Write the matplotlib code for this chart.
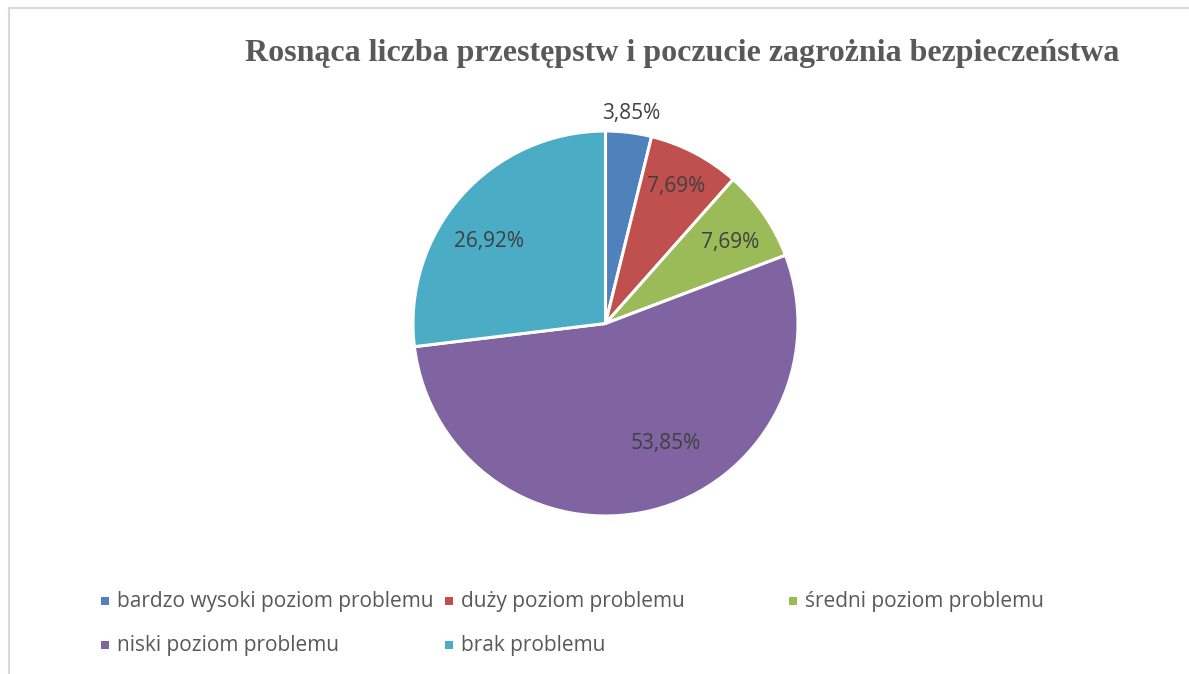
import matplotlib
matplotlib.use("Agg")
import matplotlib.pyplot as plt
from matplotlib.patches import Rectangle
import numpy as np

categories = ["bardzo wysoki poziom problemu", "duży poziom problemu",
              "średni poziom problemu", "niski poziom problemu", "brak problemu"]
values = [3.85, 7.69, 7.69, 53.85, 26.92]
labels = ["3,85%", "7,69%", "7,69%", "53,85%", "26,92%"]
colors = ["#4F81BD", "#C0504D", "#9BBB59", "#8064A2", "#4BACC6"]
title = "Rosnąca liczba przestępstw i poczucie zagrożnia bezpieczeństwa"

W, H = 1189, 674
fig = plt.figure(figsize=(W / 100, H / 100), dpi=100)
fig.patch.set_facecolor("white")

# border
fig.add_artist(plt.Line2D([9 / W, 9 / W], [0, 1 - 8 / H], color="#d9d9d9", lw=1.5))
fig.add_artist(plt.Line2D([9 / W, 1], [1 - 8 / H, 1 - 8 / H], color="#d9d9d9", lw=1.5))

cx, cy, r = 605.5, 323.5, 192.5
ax = fig.add_axes([(cx - r) / W, 1 - (cy + r) / H, 2 * r / W, 2 * r / H])
wedges, _ = ax.pie(values, colors=colors, startangle=90, counterclock=False,
                   wedgeprops=dict(edgecolor="white", linewidth=2.2))
ax.set_xlim(-1, 1)
ax.set_ylim(-1, 1)
ax.set_aspect("auto")
ax.axis("off")

# label placement (radius factor, angle offset in degrees) per slice
rad = [1.10, 0.80, 0.77, 0.70, 0.74]
off = [0.0, 0.5, -1.7, 12.8, 6.3]
for w, lab, rf, of in zip(wedges, labels, rad, off):
    ang = np.deg2rad((w.theta1 + w.theta2) / 2 + of)
    ax.text(rf * np.cos(ang), rf * np.sin(ang), lab, ha="center", va="center",
            fontsize=15, color="#404040", family="Open Sans", clip_on=False)

fig.text(682.5 / W, 1 - 54 / H, title, ha="center", va="center",
         fontsize=23, fontweight="bold", color="#595959", family="Liberation Serif")

# legend (Excel-like equal columns)
col_x = [105, 449, 793]
row_y = [601, 645]
for i, (cat, col) in enumerate(zip(categories, colors)):
    rr, cc = divmod(i, 3)
    x, y = col_x[cc], row_y[rr]
    fig.add_artist(Rectangle(((x - 4) / W, 1 - (y + 4) / H), 8 / W, 8 / H,
                             facecolor=col, edgecolor="none", transform=fig.transFigure))
    fig.text((x + 12) / W, 1 - y / H, cat, ha="left", va="center",
             fontsize=15, color="#595959", family="Open Sans")

fig.savefig("out.png", dpi=100, facecolor="white")
